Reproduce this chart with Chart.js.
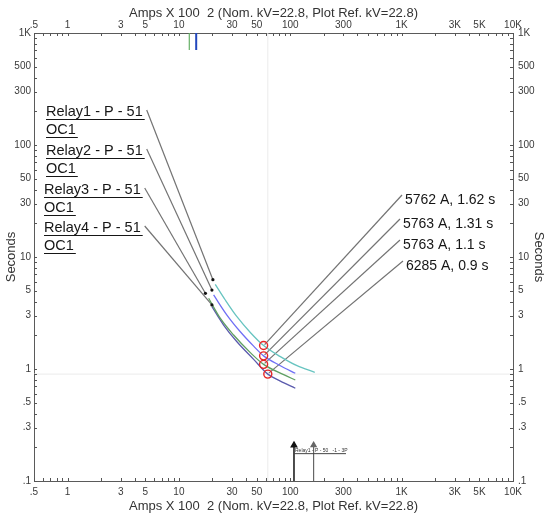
<!DOCTYPE html>
<html>
<head>
<meta charset="utf-8">
<script src="https://cdn.jsdelivr.net/npm/chart.js@4.4.1/dist/chart.umd.min.js"></script>
<style>
  html, body { margin: 0; padding: 0; background: #fff; }
  #wrap { width: 550px; height: 516px; }
</style>
</head>
<body>
<div id="wrap"><canvas id="tcc" width="550" height="516"></canvas></div>
<script>
// currents are Amps x 100, times are seconds
const relay1Amps = [21.2, 26.1, 33.2, 43.8, 57.62, 81.5, 115, 166];
const relay1Secs = [5.70, 4.13, 2.93, 2.12, 1.62, 1.29, 1.07, 0.935];
const relay2Amps = [20.5, 27.0, 35.6, 46.9, 57.63, 81.5, 111];
const relay2Secs = [4.58, 3.03, 2.15, 1.60, 1.31, 1.07, 0.916];
const relay3Amps = [18.5, 23.5, 31.0, 43.8, 57.63, 87.3, 111];
const relay3Secs = [4.28, 2.84, 2.01, 1.40, 1.10, 0.89, 0.798];
const relay4Amps = [19.8, 25.2, 33.2, 46.9, 62.85, 81.5, 111];
const relay4Secs = [3.60, 2.47, 1.75, 1.22, 0.90, 0.78, 0.673];

// operating points (red circles)
const opAmps = [57.62, 57.63, 57.63, 62.85];
const opSecs = [1.62, 1.31, 1.1, 0.9];
const opLabels = ['5762 A, 1.62 s', '5763 A, 1.31 s', '5763 A, 1.1 s', '6285 A, 0.9 s'];

// relay tags and the curve points they point at
const relayNames = ['Relay1 - P - 51', 'Relay2 - P - 51', 'Relay3 - P - 51', 'Relay4 - P - 51'];
const relaySubNames = ['OC1', 'OC1', 'OC1', 'OC1'];
const relayTipAmps = [20.2, 19.8, 17.3, 19.8];
const relayTipSecs = [6.27, 5.07, 4.74, 3.73];

// short vertical marks at the top and bottom of the plot
const topMarkAmps = [12.4, 14.3];
const topMarkSecs = [705, 1000];
const bottomMarkAmps = [108, 162];
const bottomMarkSecs = [0.1, 0.209];

const xTickValues = [0.5, 1, 3, 5, 10, 30, 50, 100, 300, 1000, 3000, 5000, 10000];
const xTickLabels = ['.5', '1', '3', '5', '10', '30', '50', '100', '300', '1K', '3K', '5K', '10K'];
const yTickValues = [0.1, 0.3, 0.5, 1, 3, 5, 10, 30, 50, 100, 300, 500, 1000];
const yTickLabels = ['.1', '.3', '.5', '1', '3', '5', '10', '30', '50', '100', '300', '500', '1K'];

const axisTitle = 'Amps X 100  2 (Nom. kV=22.8, Plot Ref. kV=22.8)';
const FONT = "'Liberation Sans', Arial, sans-serif";

// text placement (pixels)
const relayTagPos = [[46, 112], [46, 151], [44, 190], [44, 228]];
const subTagGap = 18;
const opTagPos = [[405, 200], [403, 224], [403, 245], [406, 266]];

function pts(xs, ys) {
    return xs.map((x, i) => ({ x: x, y: ys[i] }));
}

function curve(data, color) {
    return {
        data: data,
        showLine: true,
        borderColor: color,
        borderWidth: 1.3,
        pointRadius: 0,
        tension: 0.4,
        cubicInterpolationMode: 'monotone',
        fill: false
    };
}

function vmark(xv, ys, color, width, radius) {
    return {
        data: ys.map(v => ({ x: xv, y: v })),
        showLine: true,
        borderColor: color,
        backgroundColor: color,
        borderWidth: width,
        pointRadius: radius,
        pointStyle: 'triangle'
    };
}

// minor tick positions 1..9 per decade
function decadeTicks(lo, hi) {
    const out = [];
    for (let e = -2; e <= 5; e++) {
        for (let m = 1; m <= 9; m++) {
            const v = m * Math.pow(10, e);
            if (v >= lo * 0.999 && v <= hi * 1.001) out.push(v);
        }
    }
    return out;
}

const decor = {
    id: 'decor',
    beforeDatasetsDraw(chart) {
        const { ctx, chartArea: a, scales: { x, y } } = chart;
        ctx.save();
        // faint cross lines at the last operating point
        ctx.strokeStyle = '#ebebeb';
        ctx.lineWidth = 1;
        const cx = x.getPixelForValue(opAmps[3]);
        const cy = y.getPixelForValue(opSecs[3]);
        ctx.beginPath();
        ctx.moveTo(cx, a.top); ctx.lineTo(cx, a.bottom);
        ctx.moveTo(a.left, cy); ctx.lineTo(a.right, cy);
        ctx.stroke();

        // leader lines
        ctx.strokeStyle = '#737373';
        ctx.lineWidth = 1.2;
        ctx.font = '14.5px ' + FONT;
        relayNames.forEach((name, i) => {
            const [lx, ly] = relayTagPos[i];
            const w = ctx.measureText(name).width;
            ctx.beginPath();
            ctx.moveTo(lx + w + 4, ly - 2);
            ctx.lineTo(x.getPixelForValue(relayTipAmps[i]), y.getPixelForValue(relayTipSecs[i]));
            ctx.stroke();
        });
        opLabels.forEach((t, i) => {
            const [lx, ly] = opTagPos[i];
            ctx.beginPath();
            ctx.moveTo(lx - 3, ly - 5);
            ctx.lineTo(x.getPixelForValue(opAmps[i]) + 1, y.getPixelForValue(opSecs[i]) - 1);
            ctx.stroke();
        });
        ctx.restore();
    },
    afterDraw(chart) {
        const { ctx, chartArea: a, scales: { x, y } } = chart;
        ctx.save();
        // inward tick marks
        ctx.strokeStyle = '#555';
        ctx.lineWidth = 1;
        ctx.beginPath();
        decadeTicks(0.5, 10000).forEach(v => {
            const px = Math.round(x.getPixelForValue(v)) + 0.5;
            ctx.moveTo(px, a.bottom); ctx.lineTo(px, a.bottom - 3);
            ctx.moveTo(px, a.top); ctx.lineTo(px, a.top + 3);
        });
        decadeTicks(0.1, 1000).forEach(v => {
            const py = Math.round(y.getPixelForValue(v)) + 0.5;
            ctx.moveTo(a.left, py); ctx.lineTo(a.left + 3, py);
            ctx.moveTo(a.right, py); ctx.lineTo(a.right - 3, py);
        });
        ctx.stroke();

        // arrow dots at the relay leader ends
        ctx.fillStyle = '#111';
        relayTipAmps.forEach((v, i) => {
            ctx.beginPath();
            ctx.arc(x.getPixelForValue(v), y.getPixelForValue(relayTipSecs[i]), 1.6, 0, Math.PI * 2);
            ctx.fill();
        });

        // relay tags
        ctx.fillStyle = '#161616';
        ctx.strokeStyle = '#161616';
        ctx.textBaseline = 'middle';
        ctx.textAlign = 'left';
        ctx.font = '14.5px ' + FONT;
        relayNames.forEach((name, i) => {
            const [lx, ly] = relayTagPos[i];
            [name, relaySubNames[i]].forEach((t, k) => {
                const ty = ly + k * subTagGap;
                ctx.fillText(t, lx, ty);
                const w = ctx.measureText(t).width;
                ctx.beginPath();
                ctx.moveTo(lx, ty + 7.5); ctx.lineTo(lx + w + 2, ty + 7.5);
                ctx.lineWidth = 1;
                ctx.stroke();
            });
        });

        // operating point tags
        ctx.font = '14px ' + FONT;
        opLabels.forEach((t, i) => {
            const [lx, ly] = opTagPos[i];
            ctx.fillText(t, lx, ly);
        });

        // tiny tag by the bottom marks
        const bx = x.getPixelForValue(bottomMarkAmps[0]);
        const by = y.getPixelForValue(bottomMarkSecs[1]);
        ctx.font = '5px ' + FONT;
        ctx.fillStyle = '#333';
        ctx.fillText('Relay1 - P - 50   -1 - 3P', bx + 1, by + 5);
        ctx.strokeStyle = '#444';
        ctx.beginPath();
        ctx.moveTo(bx, by + 8.5); ctx.lineTo(bx + 52, by + 8.5);
        ctx.stroke();
        ctx.restore();
    }
};

function tickSet(values) {
    return function (scale) {
        scale.ticks = values.map(v => ({ value: v }));
    };
}

const tickPadding = { bottom: 5, top: 2, left: 3, right: 5 };
const titlePadding = {
    bottom: { top: 3, bottom: 2 },
    top: { top: 6, bottom: 2 },
    left: { top: 4, bottom: 3 },
    right: { top: 4, bottom: 3 }
};

function makeScale(pos, kind, size) {
    const isX = kind === 'x';
    const values = isX ? xTickValues : yTickValues;
    const labels = isX ? xTickLabels : yTickLabels;
    return {
        type: 'logarithmic',
        position: pos,
        min: isX ? 0.5 : 0.1,
        max: isX ? 10000 : 1000,
        grid: { display: false, drawTicks: false },
        border: { display: true, color: '#5a5a5a', width: 1 },
        afterBuildTicks: tickSet(values),
        ticks: {
            autoSkip: false,
            maxRotation: 0,
            color: '#3a3a3a',
            font: { family: FONT, size: 10 },
            padding: tickPadding[pos],
            callback: (v, i) => labels[i]
        },
        title: {
            display: true,
            text: isX ? axisTitle : 'Seconds',
            color: '#333',
            font: { family: FONT, size: 13 },
            padding: titlePadding[pos]
        },
        afterFit: isX ? (sc) => { sc.height = size; } : (sc) => { sc.width = size; }
    };
}

function drawChart() {
    const ctx = document.getElementById('tcc').getContext('2d');
    new Chart(ctx, {
        type: 'scatter',
        data: {
            datasets: [
                {
                    data: pts(opAmps, opSecs),
                    pointStyle: 'circle',
                    pointRadius: 4,
                    borderColor: '#e62525',
                    borderWidth: 1.4,
                    backgroundColor: 'rgba(0,0,0,0)',
                    showLine: false
                },
                curve(pts(relay1Amps, relay1Secs), '#67c4c0'),
                curve(pts(relay2Amps, relay2Secs), '#6f6ff5'),
                curve(pts(relay3Amps, relay3Secs), '#5f9f62'),
                curve(pts(relay4Amps, relay4Secs), '#5b5bad'),
                vmark(topMarkAmps[0], topMarkSecs, '#66b066', 1.2, 0),
                vmark(topMarkAmps[1], topMarkSecs, '#2347bd', 2, 0),
                vmark(bottomMarkAmps[0], bottomMarkSecs, '#111', 1.5, [0, 3]),
                vmark(bottomMarkAmps[1], bottomMarkSecs, '#666', 1.2, [0, 3])
            ]
        },
        options: {
            responsive: false,
            animation: false,
            events: [],
            layout: { padding: 0 },
            plugins: { legend: { display: false }, tooltip: { enabled: false } },
            scales: {
                x: makeScale('bottom', 'x', 35),
                x2: makeScale('top', 'x', 33),
                y: makeScale('left', 'y', 34),
                y2: makeScale('right', 'y', 37)
            }
        },
        plugins: [decor]
    });
}

window.addEventListener('load', drawChart);
</script>
</body>
</html>
